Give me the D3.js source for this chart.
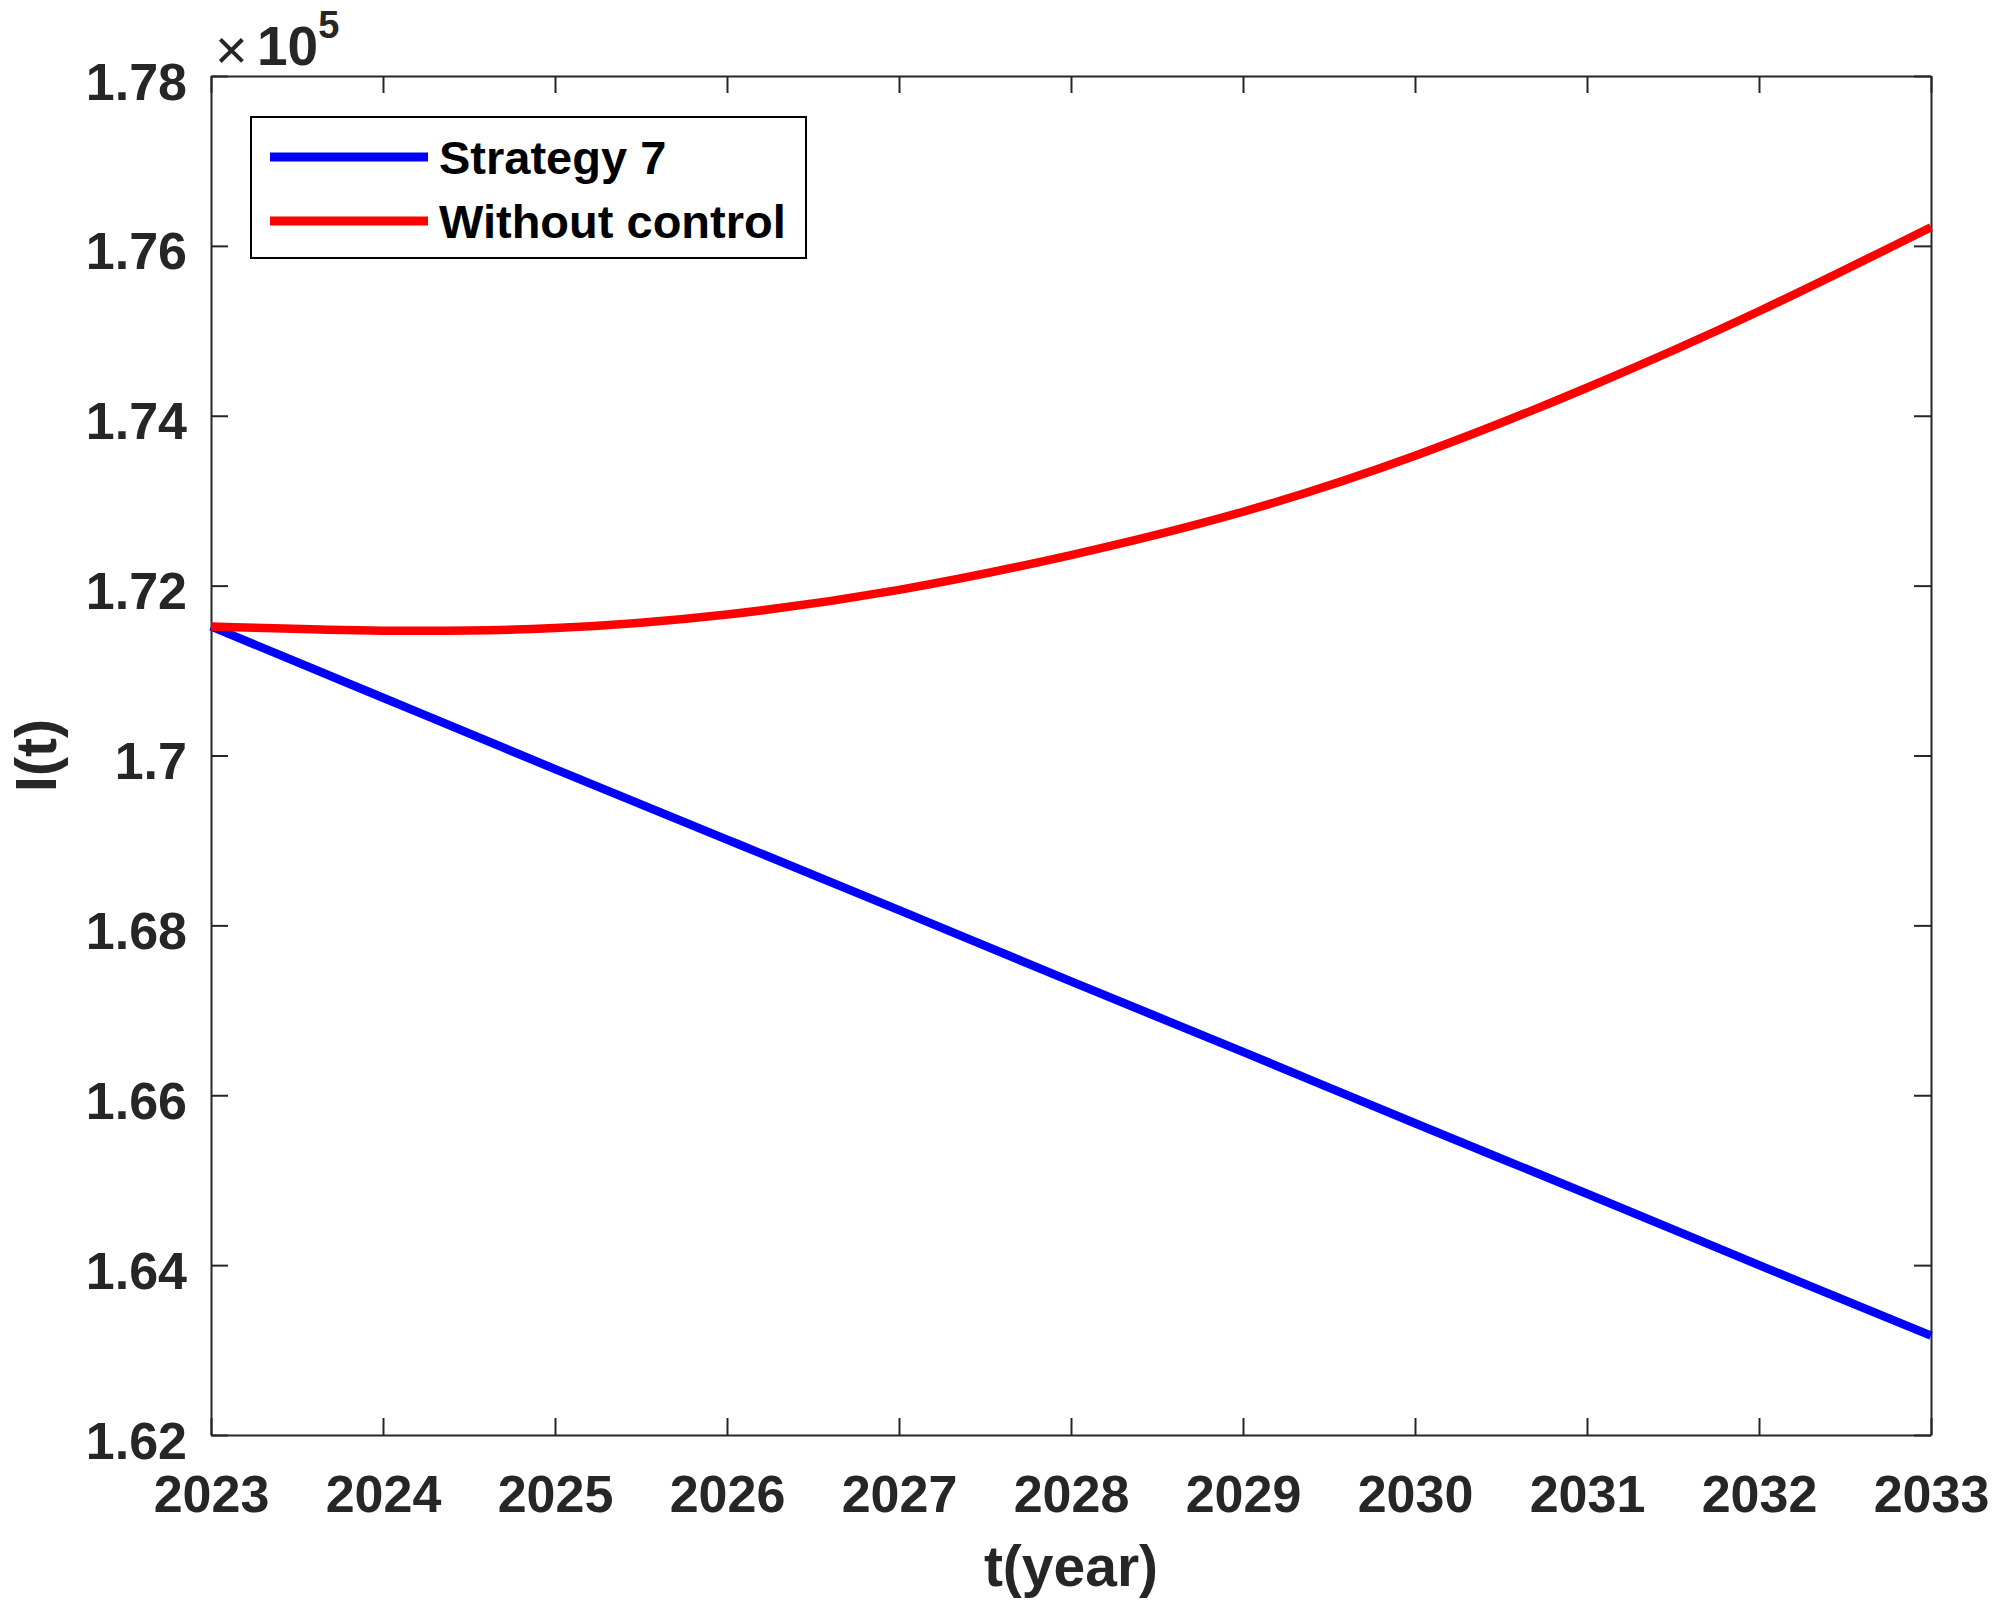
<!DOCTYPE html>
<html>
<head>
<meta charset="utf-8">
<script src="https://cdn.jsdelivr.net/npm/d3@7"></script>
<style>
  html, body { margin: 0; padding: 0; background: #fff; }
  svg { display: block; font-family: "Liberation Sans", Arial, Helvetica, sans-serif; }
</style>
</head>
<body>
<svg id="chart" width="2000" height="1619"></svg>
<script>
// ---- data ----
const years = [2023, 2024, 2025, 2026, 2027, 2028, 2029, 2030, 2031, 2032, 2033];
const strategy7 = [1.7152, 1.7068, 1.6984, 1.6901, 1.6818, 1.6734, 1.6651, 1.6567, 1.6484, 1.6400, 1.6317];
const withoutControl = [1.7152, 1.7147, 1.7150, 1.7166, 1.7195, 1.7236, 1.7287, 1.7353, 1.7433, 1.7523, 1.7622];
const yTicks = [1.62, 1.64, 1.66, 1.68, 1.70, 1.72, 1.74, 1.76, 1.78];
const yTickLabels = ["1.62", "1.64", "1.66", "1.68", "1.7", "1.72", "1.74", "1.76", "1.78"];
const seriesNames = ["Strategy 7", "Without control"];
const seriesColors = ["#0000ff", "#ff0000"];
const xTitle = "t(year)";
const yTitle = "I(t)";

// ---- layout ----
const L = 211, R = 1931, T = 76, B = 1435;
const ink = "#262626";
const tickLen = 17;

const svg = d3.select("#chart");
const x = d3.scaleLinear().domain([2023, 2033]).range([L, R]);
const y = d3.scaleLinear().domain([1.62, 1.78]).range([B, T]);

// axes (ticks inward, box on)
const gB = svg.append("g").attr("transform", `translate(0,${B})`)
  .call(d3.axisBottom(x).tickValues(years).tickFormat(d3.format("d")).tickSizeInner(-tickLen).tickSizeOuter(0).tickPadding(0));
gB.selectAll("text").attr("dy", null).attr("y", 77)
  .style("font-size", "52px").style("font-weight", "bold").attr("fill", ink);

const gT = svg.append("g").attr("transform", `translate(0,${T})`)
  .call(d3.axisTop(x).tickValues(years).tickFormat("").tickSizeInner(-tickLen).tickSizeOuter(0));

const gL = svg.append("g").attr("transform", `translate(${L},0)`)
  .call(d3.axisLeft(y).tickValues(yTicks).tickFormat((d, i) => yTickLabels[i]).tickSizeInner(-tickLen).tickSizeOuter(0).tickPadding(0));
gL.selectAll("text").attr("dy", null).attr("x", -24).attr("y", 23)
  .style("font-size", "52px").style("font-weight", "bold").attr("fill", ink).attr("text-anchor", "end");

const gR = svg.append("g").attr("transform", `translate(${R},0)`)
  .call(d3.axisRight(y).tickValues(yTicks).tickFormat("").tickSizeInner(-tickLen).tickSizeOuter(0));

[gB, gT, gL, gR].forEach(g => {
  g.select(".domain").attr("stroke", ink).attr("stroke-width", 2);
  g.selectAll(".tick line").attr("stroke", ink).attr("stroke-width", 2);
});

// lines
const line = d3.line().x(d => x(d[0])).y(d => y(d[1])).curve(d3.curveNatural);
const plotG = svg.append("g");
[strategy7, withoutControl].forEach((vals, i) => {
  plotG.append("path")
    .datum(years.map((yr, j) => [yr, vals[j]]))
    .attr("d", line)
    .attr("fill", "none")
    .attr("stroke", seriesColors[i])
    .attr("stroke-width", 8.5)
    .attr("stroke-linejoin", "round");
});

// exponent label
svg.append("text").attr("x", 215).attr("y", 69).attr("fill", ink)
  .style("font-size", "56px").text("×");
const ex = svg.append("text").attr("x", 257).attr("y", 65).attr("fill", ink)
  .style("font-size", "55px").style("font-weight", "bold");
ex.append("tspan").text("10");
ex.append("tspan").attr("dy", -27).style("font-size", "38px").text("5");

// axis titles
svg.append("text").attr("x", (L + R) / 2).attr("y", 1586).attr("text-anchor", "middle")
  .style("font-size", "57px").style("font-weight", "bold").attr("fill", ink).text(xTitle);
svg.append("text").attr("transform", `translate(56,${(T + B) / 2}) rotate(-90)`).attr("text-anchor", "middle")
  .style("font-size", "57px").style("font-weight", "bold").attr("fill", ink).text(yTitle);

// legend
const lg = svg.append("g");
lg.append("rect").attr("x", 251).attr("y", 117).attr("width", 555).attr("height", 141)
  .attr("fill", "#fff").attr("stroke", "#000").attr("stroke-width", 2);
const legY = [157, 221];
seriesNames.forEach((name, i) => {
  lg.append("line").attr("x1", 270).attr("x2", 428).attr("y1", legY[i]).attr("y2", legY[i])
    .attr("stroke", seriesColors[i]).attr("stroke-width", 9);
  lg.append("text").attr("x", 439).attr("y", legY[i] + 17)
    .style("font-size", "47px").style("font-weight", "bold").attr("fill", "#000").text(name);
});
</script>
</body>
</html>
